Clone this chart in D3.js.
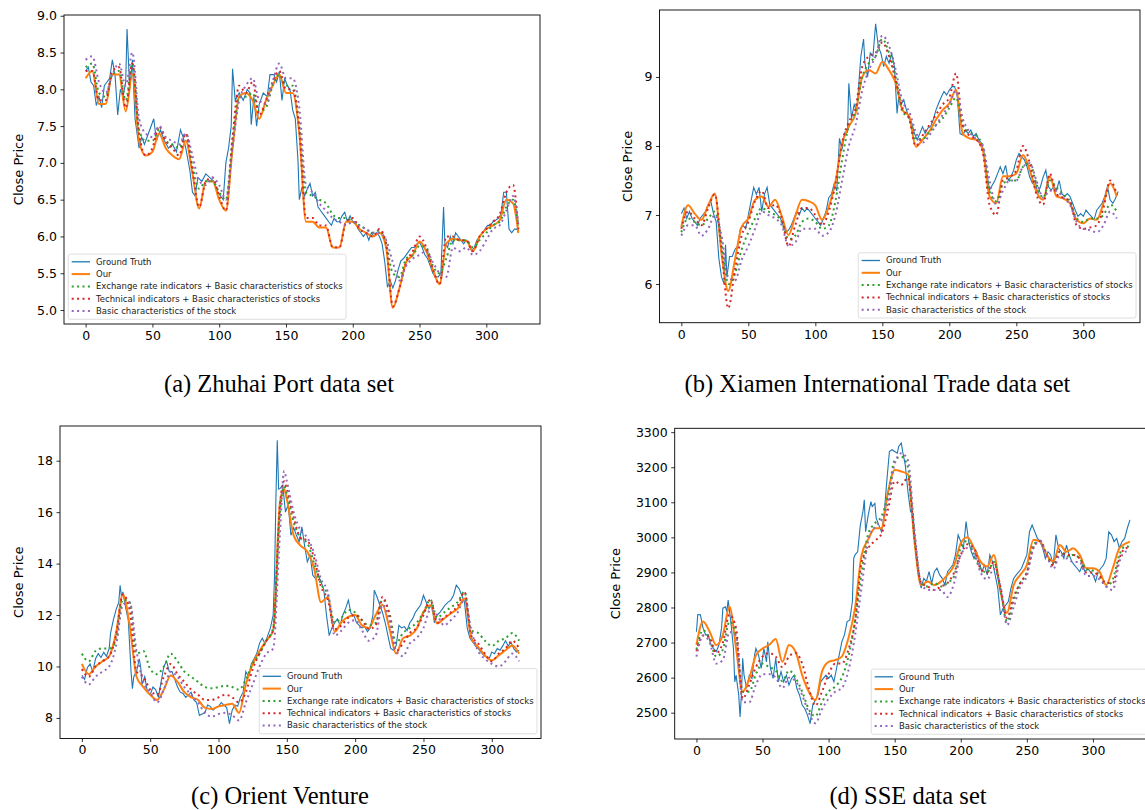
<!DOCTYPE html>
<meta charset="utf-8" />
<style>
    body { margin: 0; background: #fff; }
    .tick text { font: 12.5px "DejaVu Sans"; fill: #000; }
    .ylab { font: 13px "DejaVu Sans"; }
    .cap { font: 24.5px "Liberation Serif"; }
    .leg text { font: 8.5px "DejaVu Sans"; fill: #222; }
</style>
<title>Close price predictions</title>
<body></body>
<script src="https://d3js.org/d3.v7.min.js"></script>
<script>

    // legend labels, in plotting order
    var seriesNames = ["Ground Truth", "Our",
        "Exchange rate indicators + Basic characteristics of stocks",
        "Technical indicators + Basic characteristics of stocks",
        "Basic characteristics of the stock"];
    var xTicks = [0, 50, 100, 150, 200, 250, 300];

    // ---------- (a) Zhuhai Port ----------
    var aGt = [[0,8.25],[2,8.3],[4,8.1],[6,8.05],[8,7.78],[10,7.9],[12,7.75],[14,8.05],[16,8.1],[18,8.15],[20,8.4],[22,8.2],[24,7.65],[26,8.0],[28,7.9],[30,8.1],[31,8.82],[33,8.0],[35,8.4],[37,7.6],[40,7.2],[42,7.35],[44,7.25],[47,7.4],[51,7.6],[53,7.3],[56,7.45],[59,7.3],[62,7.2],[65,7.25],[68,7.15],[71,7.45],[73,7.35],[75,7.2],[78,6.9],[80,6.6],[82,6.55],[84,6.8],[87,6.75],[90,6.85],[93,6.8],[96,6.75],[99,6.6],[101,6.55],[103,6.5],[105,7.0],[107,7.2],[109,7.5],[110,8.28],[112,7.85],[115,7.95],[118,7.85],[121,8.0],[123,7.95],[124,7.52],[126,7.9],[128,7.5],[130,7.8],[133,7.95],[136,7.9],[138,8.2],[141,8.2],[143,8.1],[145,8.24],[147,7.85],[149,8.15],[151,8.05],[153,8.0],[155,7.72],[157,7.6],[159,7.03],[160,6.5],[162,6.67],[164,6.55],[166,6.65],[168,6.72],[170,6.55],[172,6.6],[174,6.4],[176,6.35],[178,6.3],[180,6.25],[182,6.2],[184,6.15],[186,6.25],[188,6.2],[190,6.2],[192,6.28],[194,6.33],[196,6.2],[198,6.28],[200,6.2],[202,6.2],[204,6.1],[206,6.05],[208,6.0],[210,6.05],[212,5.95],[214,6.05],[216,6.0],[218,6.05],[220,6.0],[222,5.9],[224,5.65],[226,5.31],[228,5.4],[230,5.3],[232,5.4],[234,5.55],[236,5.67],[238,5.7],[240,5.75],[242,5.8],[244,5.85],[246,5.85],[248,5.9],[250,5.92],[252,5.85],[254,5.75],[256,5.7],[258,5.6],[260,5.5],[262,5.45],[264,5.45],[266,5.5],[268,6.4],[269,5.9],[271,5.85],[273,6.0],[275,5.9],[277,6.05],[279,6.0],[281,5.95],[283,5.9],[285,5.95],[287,5.9],[289,5.8],[291,5.85],[293,5.95],[295,6.0],[297,6.05],[299,6.1],[301,6.15],[303,6.15],[305,6.2],[307,6.22],[309,6.25],[311,6.3],[313,6.6],[315,6.6],[317,6.1],[319,6.05],[321,6.1],[323,6.1],[324,6.05]];
    var aIdx = [0,5,10,15,20,25,30,35,40,45,50,55,60,65,70,75,80,85,90,95,100,105,110,115,120,125,130,135,140,145,150,155,160,165,170,175,180,185,190,195,200,205,210,215,220,225,230,235,240,245,250,255,260,265,270,275,280,285,290,295,300,305,310,315,320,324];
    var aOur = [8.15,8.25,7.8,7.8,8.2,8.2,7.7,8.2,7.3,7.1, 7.15,7.4,7.2,7.1,7.05,7.3,6.85,6.38,6.75,6.75, 6.5,6.35,7.2,7.9,7.95,7.85,7.6,7.85,8.05,8.2, 7.95,7.95,7.4,6.2,6.2,6.12,6.12,5.85,5.85,6.2, 6.2,6.1,6.05,6.0,6.05,5.85,5.03,5.3,5.65,5.75, 5.93,5.8,5.55,5.35,5.9,5.97,5.95,5.94,5.8,6.0, 6.1,6.15,6.22,6.5,6.45,6.05];
    var aExch = [8.3,8.35,7.95,7.9,8.2,8.25,7.85,8.35,7.45,7.3, 7.3,7.45,7.3,7.25,7.2,7.4,6.95,6.65,6.75,6.75, 6.6,6.5,7.3,7.9,7.9,7.95,7.7,7.75,8.05,8.2, 8.05,8.05,7.5,6.6,6.55,6.5,6.45,6.3,6.25,6.25, 6.2,6.15,6.1,6.05,6.08,5.9,5.5,5.45,5.7,5.75, 5.87,5.85,5.6,5.5,5.7,5.95,5.95,5.95,5.85,5.95, 6.05,6.15,6.2,6.4,6.5,6.15];
    var aTech = [8.25,8.25,7.85,7.85,8.25,8.3,7.75,8.35,7.4,7.1, 7.2,7.5,7.3,7.2,7.1,7.4,6.9,6.4,6.75,6.8, 6.55,6.35,7.35,8.05,7.95,8.1,7.65,7.85,8.1,8.25, 8.0,8.0,7.45,6.25,6.25,6.15,6.15,5.85,5.85,6.2, 6.25,6.1,6.05,6.0,6.1,5.9,5.05,5.3,5.65,5.8, 6.0,5.85,5.55,5.35,6.0,6.0,5.95,5.95,5.8,6.0, 6.1,6.2,6.3,6.6,6.7,6.1];
    var aBasic = [8.4,8.45,8.1,7.95,8.2,8.35,8.05,8.5,7.6,7.4, 7.35,7.5,7.35,7.3,7.25,7.4,7.1,6.75,6.7,6.8, 6.7,6.5,7.2,7.85,8.05,8.15,7.85,7.8,8.1,8.35, 8.15,8.15,7.75,6.7,6.6,6.45,6.35,6.25,6.2,6.15, 6.2,6.15,6.1,6.05,6.05,5.95,5.65,5.4,5.6,5.7, 5.75,5.8,5.65,5.5,5.45,5.85,5.8,5.85,5.75,5.8, 5.95,6.1,6.15,6.35,6.55,6.15];
    var aYTicks = [5.0, 5.5, 6.0, 6.5, 7.0, 7.5, 8.0, 8.5, 9.0];

    // ---------- (b) Xiamen International Trade ----------
    var bGt = [[0,7.02],[2,7.1],[4,6.95],[6,7.05],[8,6.95],[10,6.9],[12,6.85],[14,6.95],[16,7.0],[18,7.05],[20,7.15],[22,7.2],[24,7.02],[26,6.9],[28,6.37],[30,6.1],[32,6.0],[33,6.57],[34,6.1],[36,6.4],[38,6.4],[40,6.5],[42,6.55],[44,6.8],[46,6.85],[48,6.8],[50,7.0],[52,7.2],[54,7.4],[56,7.3],[58,7.4],[60,7.05],[62,7.3],[64,7.4],[66,7.15],[68,7.1],[70,7.05],[72,7.0],[74,6.95],[76,6.85],[78,6.75],[80,6.78],[82,6.85],[84,6.95],[86,7.05],[88,7.0],[90,7.1],[92,7.05],[94,7.1],[96,7.05],[98,7.0],[100,6.95],[102,6.9],[104,6.85],[106,6.95],[108,7.05],[110,7.25],[112,7.3],[114,7.45],[116,7.35],[118,8.11],[120,7.95],[122,8.2],[124,8.2],[125,8.91],[127,8.4],[129,8.6],[131,8.5],[133,9.05],[134,9.3],[136,9.55],[137,9.2],[139,9.0],[141,9.35],[143,9.3],[145,9.77],[147,9.44],[149,9.34],[151,9.15],[153,9.3],[155,9.2],[157,9.34],[159,9.15],[161,8.47],[162,8.67],[164,8.6],[166,8.67],[168,8.52],[170,8.4],[172,8.33],[174,8.18],[176,8.09],[178,8.18],[180,8.28],[182,8.18],[184,8.26],[186,8.28],[188,8.38],[190,8.52],[192,8.62],[194,8.71],[196,8.79],[198,8.74],[200,8.81],[202,8.86],[204,8.86],[206,8.71],[208,8.18],[210,8.16],[212,8.23],[214,8.18],[216,8.23],[218,8.14],[220,8.18],[222,8.09],[224,8.04],[226,7.89],[228,7.6],[230,7.36],[232,7.43],[234,7.5],[236,7.6],[238,7.7],[240,7.6],[242,7.72],[244,7.5],[246,7.55],[248,7.65],[250,7.8],[252,7.89],[254,7.85],[256,7.8],[258,7.7],[260,7.55],[262,7.46],[264,7.5],[266,7.31],[268,7.41],[270,7.55],[272,7.65],[274,7.41],[276,7.36],[278,7.41],[280,7.36],[282,7.5],[284,7.31],[286,7.27],[288,7.31],[290,7.27],[292,7.17],[294,7.07],[296,6.98],[298,7.02],[300,6.98],[302,7.07],[304,7.02],[306,6.98],[308,6.93],[310,7.07],[312,7.12],[314,7.17],[316,7.27],[318,7.41],[320,7.22],[322,7.17],[324,7.24],[326,7.34]];
    var bIdx = [0,5,10,15,20,25,30,35,40,45,50,55,60,65,70,75,80,85,90,95,100,105,110,115,120,125,130,135,140,145,150,155,160,165,170,175,180,185,190,195,200,205,210,215,220,225,230,235,240,245,250,255,260,265,270,275,280,285,290,295,300,305,310,315,320,325];
    var bOur = [6.83,7.14,7.02,6.93,7.14,7.31,6.44,5.9,6.35,6.83, 6.95,7.22,7.27,7.12,7.22,6.98,6.71,6.98,7.22,7.2, 7.14,6.93,7.12,7.48,8.04,8.28,8.47,9.0,9.1,9.05, 9.22,9.1,8.91,8.52,8.43,7.99,8.09,8.21,8.38,8.52, 8.62,8.81,8.18,8.11,8.09,7.94,7.27,7.17,7.56,7.56, 7.6,7.87,7.65,7.34,7.22,7.56,7.27,7.24,7.17,6.93, 6.88,6.95,6.93,7.17,7.46,7.27];
    var bExch = [6.75,6.95,6.9,6.85,6.95,7.05,6.6,6.0,6.15,6.5, 6.75,6.95,7.1,7.05,7.0,6.9,6.65,6.7,6.9,6.95, 6.9,6.8,6.85,7.2,7.8,8.3,8.5,9.0,9.2,9.3, 9.55,9.35,9.0,8.5,8.4,8.1,8.1,8.2,8.3,8.4, 8.55,8.7,8.3,8.2,8.15,8.0,7.35,7.2,7.45,7.5, 7.5,7.7,7.75,7.45,7.25,7.5,7.4,7.3,7.2,6.95, 6.9,6.95,6.95,7.0,7.15,7.05];
    var bTech = [6.8,7.05,6.95,6.85,7.1,7.3,6.5,5.65,6.2,6.7, 6.9,7.2,7.35,7.1,7.15,6.95,6.55,6.85,7.1,7.1, 7.0,6.85,7.05,7.45,8.05,8.35,8.55,9.15,9.3,9.35, 9.5,9.3,8.95,8.55,8.4,8.0,8.15,8.3,8.45,8.6, 8.7,9.05,8.3,8.15,8.1,7.9,7.15,7.0,7.5,7.55, 7.65,8.0,7.75,7.3,7.15,7.6,7.3,7.25,7.2,6.85, 6.8,6.82,6.85,7.1,7.5,7.3];
    var bBasic = [6.7,6.85,6.85,6.7,6.8,7.0,6.7,6.1,6.05,6.35, 6.55,6.8,7.05,7.0,6.95,6.85,6.55,6.6,6.8,6.8, 6.8,6.7,6.75,7.0,7.5,8.0,8.3,8.8,9.1,9.3, 9.6,9.45,9.1,8.65,8.5,8.2,8.05,8.15,8.3,8.45, 8.6,8.8,8.4,8.2,8.1,8.0,7.5,7.15,7.35,7.5, 7.5,7.7,7.75,7.5,7.25,7.35,7.35,7.25,7.15,6.9, 6.8,6.78,6.75,6.85,7.05,6.95];
    var bYTicks = [6, 7, 8, 9];

    // ---------- (c) Orient Venture ----------
    var cGt = [[0,9.66],[2,9.5],[4,9.95],[6,10.1],[8,9.8],[10,10.3],[12,10.5],[14,10.35],[16,10.55],[18,10.4],[20,10.7],[21,11.3],[23,11.8],[25,12.2],[27,12.5],[28,13.16],[29,12.7],[30,12.9],[32,12.3],[34,11.8],[35,10.8],[36,9.8],[37,9.14],[38,9.6],[40,9.8],[42,10.3],[43,10.0],[44,9.3],[46,9.6],[48,9.0],[50,8.9],[52,9.2],[54,9.1],[56,8.8],[58,9.4],[60,10.0],[62,10.2],[64,9.8],[66,9.8],[68,9.5],[70,9.2],[72,9.0],[74,8.95],[76,8.8],[78,8.9],[80,9.0],[82,8.7],[84,8.6],[86,8.1],[88,8.15],[90,8.2],[92,8.5],[94,8.45],[96,8.3],[98,8.4],[100,8.45],[102,8.6],[104,8.5],[106,8.4],[108,7.78],[110,8.3],[112,8.5],[114,8.45],[116,8.8],[118,9.0],[120,9.8],[122,9.6],[124,10.1],[126,10.3],[128,10.5],[130,10.9],[132,11.1],[134,10.9],[136,11.2],[138,11.5],[140,12.0],[141,13.5],[142,16.5],[143,18.8],[144,16.9],[145,16.92],[147,17.05],[149,16.0],[151,16.3],[153,15.1],[155,15.4],[157,15.1],[159,14.85],[161,15.43],[163,14.7],[165,14.07],[167,14.33],[169,13.55],[171,13.42],[173,13.55],[175,13.3],[177,13.0],[179,12.0],[181,11.2],[183,11.5],[185,11.7],[187,11.85],[189,11.6],[191,12.0],[193,12.25],[195,12.58],[197,12.06],[199,12.0],[201,11.7],[203,11.6],[205,11.5],[207,11.55],[209,11.35],[211,11.5],[213,12.0],[214,12.97],[216,12.7],[218,12.4],[220,12.1],[222,11.7],[224,11.2],[226,10.7],[228,10.63],[230,10.8],[232,11.6],[234,11.5],[236,11.55],[238,11.4],[240,11.7],[242,11.85],[244,12.1],[246,12.25],[248,12.4],[250,12.77],[252,12.5],[254,12.25],[256,12.4],[258,11.7],[260,12.0],[262,12.1],[264,12.25],[266,12.4],[268,12.5],[270,12.58],[272,12.77],[274,13.16],[276,13.03],[278,12.77],[280,12.5],[282,11.5],[284,11.1],[286,10.95],[288,10.8],[290,10.7],[292,10.56],[294,10.44],[296,10.37],[298,10.3],[300,10.56],[302,10.5],[304,10.7],[306,10.63],[308,10.8],[310,11.0],[312,10.8],[314,10.95],[316,10.7],[318,10.56],[320,10.63]];
    var cIdx = [0,5,10,15,20,25,30,35,40,45,50,55,60,65,70,75,80,85,90,95,100,105,110,115,120,125,130,135,140,145,148,150,155,160,165,170,175,180,185,190,195,200,205,210,215,220,225,230,235,240,245,250,255,260,265,270,275,280,285,290,295,300,305,310,315,320];
    var cOur = [10.1,9.7,10.0,10.2,10.4,11.3,12.8,11.6,9.6,9.2, 8.9,8.7,9.1,9.65,9.4,9.0,8.8,8.7,8.4,8.35, 8.45,8.5,8.55,8.2,9.3,10.1,10.6,11.0,11.4,16.4, 16.9, 16.5,15.1,14.7,14.46,13.8,12.5,12.7,11.35,11.73,11.93, 12.0,11.6,11.5,12.0,12.4,11.5,10.5,11.1,11.2,11.47, 12.12,12.38,11.67,11.86,12.06,12.25,12.64,11.1,10.76,10.43, 10.24,10.43,10.63,10.82,10.5];
    var cExch = [10.5,10.2,10.6,10.7,10.7,11.0,12.6,12.5,10.5,10.6, 9.9,9.7,10.0,10.5,10.2,9.8,9.6,9.4,9.2,9.15, 9.2,9.25,9.2,9.1,9.5,10.1,10.5,11.0,11.5,16.0, 17.0, 16.7,15.6,15.0,14.8,14.0,13.2,12.8,11.7,11.9,12.2, 12.1,11.8,11.6,11.7,12.6,12.1,10.9,11.3,11.5,11.7, 12.1,12.6,11.9,12.1,12.3,12.5,12.9,11.4,11.3,11.0, 10.8,11.0,11.1,11.3,11.0];
    var cTech = [9.9,9.6,10.0,10.2,10.4,11.2,12.8,12.2,9.8,9.6, 9.1,8.9,9.6,10.1,9.7,9.4,9.1,8.9,8.7,8.7, 8.8,8.9,8.8,8.6,9.0,9.9,10.5,11.0,11.4,16.3, 17.2, 16.9,15.8,15.0,14.9,14.2,13.1,12.6,11.45,11.6,11.9, 12.0,11.8,11.45,11.6,12.7,12.0,10.6,10.9,11.3,11.5, 12.0,12.6,11.7,11.9,12.1,12.35,12.9,11.2,10.9,10.5, 10.2,10.5,10.7,11.0,10.7];
    var cBasic = [9.6,9.3,9.6,9.8,10.0,10.8,12.4,12.5,10.6,9.4, 9.0,8.6,9.1,9.8,9.6,9.2,8.9,8.6,8.2,8.05, 8.15,8.2,8.1,7.9,8.6,9.3,10.0,10.5,10.7,15.2, 17.6, 17.2,16.0,15.3,15.0,14.4,13.4,12.9,11.2,11.4,11.7, 11.8,11.4,11.0,11.2,12.4,11.8,10.6,10.4,10.9,11.1, 11.5,12.2,12.0,11.6,11.8,12.1,12.6,11.4,10.6,10.3, 10.1,10.0,10.2,10.5,10.2];
    var cYTicks = [8, 10, 12, 14, 16, 18];

    // ---------- (d) SSE ----------
    var dGt = [[0,2731],[1,2780],[3,2779],[5,2741],[7,2722],[9,2722],[11,2693],[13,2683],[15,2674],[17,2693],[19,2741],[20,2798],[22,2802],[23,2788],[24,2821],[26,2760],[28,2683],[29,2588],[30,2607],[32,2550],[33,2488],[34,2550],[35,2655],[36,2607],[38,2569],[40,2607],[42,2598],[44,2664],[45,2683],[47,2664],[49,2626],[51,2683],[53,2645],[54,2702],[56,2626],[58,2598],[60,2655],[62,2588],[64,2617],[66,2588],[68,2607],[70,2579],[72,2598],[74,2607],[76,2569],[78,2550],[80,2522],[82,2512],[84,2493],[86,2469],[88,2522],[90,2536],[92,2550],[94,2588],[96,2598],[98,2607],[100,2598],[102,2607],[104,2588],[106,2626],[108,2664],[110,2702],[112,2722],[114,2760],[116,2764],[118,2817],[119,2940],[120,2950],[122,2959],[124,3035],[126,3074],[127,3107],[128,3016],[130,3064],[132,3102],[133,3088],[135,3097],[136,3055],[138,3035],[140,3016],[142,3064],[144,3159],[146,3245],[148,3250],[150,3245],[152,3240],[153,3259],[155,3269],[156,3245],[158,3207],[160,3131],[162,3074],[164,3064],[166,2950],[168,2893],[170,2855],[172,2883],[174,2874],[176,2902],[178,2869],[180,2902],[182,2912],[184,2893],[186,2883],[188,2864],[190,2902],[192,2912],[194,2921],[196,2950],[198,3007],[200,2988],[202,2969],[204,3045],[206,2988],[208,2959],[210,2940],[212,2959],[214,2931],[216,2902],[218,2921],[220,2893],[222,2950],[224,2931],[226,2893],[228,2855],[230,2779],[232,2798],[234,2807],[236,2817],[238,2855],[240,2883],[242,2893],[244,2902],[246,2912],[248,2931],[250,2950],[252,3016],[254,3035],[256,3016],[258,2997],[260,2988],[262,2969],[264,2940],[266,2959],[268,2950],[270,2921],[272,3007],[274,2969],[276,2959],[278,2940],[280,2978],[282,2950],[284,2931],[286,2921],[288,2912],[290,2902],[292,2921],[294,2902],[296,2912],[298,2902],[300,2893],[302,2874],[304,2902],[306,2912],[308,2921],[310,2940],[312,3016],[314,3007],[316,2988],[318,2997],[320,2969],[322,2988],[324,2997],[326,3026],[328,3050]];
    var dIdx = [0,5,10,15,20,25,30,35,40,45,50,55,60,65,70,75,80,85,90,95,100,105,110,115,120,125,130,135,140,145,150,155,160,165,170,175,180,185,190,195,200,205,210,215,220,225,230,235,240,245,250,255,260,265,270,275,280,285,290,295,300,305,310,315,320,325,328];
    var dOur = [2693,2760,2731,2693,2722,2802,2683,2560,2598,2664, 2683,2693,2710,2645,2693,2674,2607,2560,2535,2617, 2645,2650,2660,2712,2798,2950,2995,3026,3026,3131, 3192,3188,3180,2988,2864,2874,2864,2874,2893,2921, 2983,3000,2969,2931,2917,2950,2845,2785,2864,2893, 2921,2993,2988,2950,2931,2978,2959,2969,2950,2912, 2912,2902,2864,2912,2969,2983,2988];
    var dExch = [2680,2735,2710,2660,2680,2760,2720,2560,2560,2610, 2640,2630,2620,2590,2620,2600,2560,2510,2490,2530, 2560,2575,2600,2660,2760,2900,3010,3040,3060,3120, 3220,3230,3200,3000,2870,2860,2870,2860,2870,2890, 2970,2990,2950,2910,2900,2930,2850,2760,2820,2870, 2900,2980,2990,2950,2920,2960,2945,2950,2940,2910, 2905,2890,2860,2880,2950,2975,2970];
    var dTech = [2675,2720,2715,2670,2700,2780,2740,2540,2580,2630, 2660,2670,2660,2630,2660,2670,2640,2570,2520,2560, 2610,2640,2640,2680,2760,2930,2970,2990,3010,3080, 3160,3150,3170,3000,2870,2860,2850,2860,2870,2900, 2950,2980,2970,2910,2900,2930,2860,2770,2830,2870, 2900,2970,2990,2950,2920,2960,2950,2950,2940,2900, 2900,2890,2870,2870,2940,2970,2965];
    var dBasic = [2660,2720,2700,2640,2650,2730,2720,2530,2530,2580, 2610,2610,2600,2570,2600,2590,2550,2500,2470,2510, 2540,2560,2570,2620,2720,2860,2990,3030,3050,3100, 3210,3240,3220,3020,2870,2850,2850,2850,2830,2870, 2950,2970,2960,2900,2880,2910,2860,2750,2800,2860, 2890,2970,2990,2950,2910,2950,2940,2930,2930,2890, 2890,2880,2860,2850,2930,2960,2960];
    var dYTicks = [2500, 2600, 2700, 2800, 2900, 3000, 3100, 3200, 3300];

    // matplotlib tab10
    var colors = ["#1f77b4", "#ff7f0e", "#2ca02c", "#d62728", "#9467bd"];

    var panels = [
        {id: "a", caption: "(a) Zhuhai Port data set", box: [64, 15, 540, 324], xDom: [-16.2, 340.2], yDom: [4.81, 9.01],
            yTicks: aYTicks, fmt: d3.format(".1f"), gt: aGt, idx: aIdx, preds: [aOur, aExch, aTech, aBasic],
            labX: 18, capX: 279, capY: 391.5, legend: "left"},
        {id: "b", caption: "(b) Xiamen International Trade data set", box: [659.5, 10, 1140, 322.7], xDom: [-16.3, 342.3], yDom: [5.44, 9.97],
            yTicks: bYTicks, fmt: d3.format("d"), gt: bGt, idx: bIdx, preds: [bOur, bExch, bTech, bBasic],
            labX: 627, capX: 877.5, capY: 391.5, legend: "right"},
        {id: "c", caption: "(c) Orient Venture", box: [60, 426, 541, 738.5], xDom: [-16, 336], yDom: [7.2, 19.35],
            yTicks: cYTicks, fmt: d3.format("d"), gt: cGt, idx: cIdx, preds: [cOur, cExch, cTech, cBasic],
            labX: 18, capX: 280, capY: 804, legend: "right"},
        {id: "d", caption: "(d) SSE data set", box: [674.7, 428.3, 1153, 739], xDom: [-16.45, 345.45], yDom: [2425, 3311],
            yTicks: dYTicks, fmt: d3.format("d"), gt: dGt, idx: dIdx, preds: [dOur, dExch, dTech, dBasic],
            labX: 615, capX: 908, capY: 804, legend: "right"}
    ];

    var svg = d3.select("body")
        .append("svg")
        .attr("width", 1145)
        .attr("height", 810)
        .style("background", "#fff");

    var defs = svg.append("defs");

    panels.forEach(drawPanel);

    function drawPanel(p) {
        var x0 = p.box[0], y0 = p.box[1], x1 = p.box[2], y1 = p.box[3];
        var x = d3.scaleLinear().domain(p.xDom).range([x0, x1]);
        var y = d3.scaleLinear().domain(p.yDom).range([y1, y0]);

        defs.append("clipPath").attr("id", "clip-" + p.id)
            .append("rect")
            .attr("x", x0).attr("y", y0)
            .attr("width", x1 - x0).attr("height", y1 - y0);

        var plot = svg.append("g").attr("clip-path", "url(#clip-" + p.id + ")");

        // ground truth: thin solid line
        var gtLine = d3.line()
            .x(function (d) { return x(d[0]); })
            .y(function (d) { return y(d[1]); });
        plot.append("path")
            .attr("d", gtLine(p.gt))
            .attr("fill", "none")
            .attr("stroke", colors[0])
            .attr("stroke-width", 1.1);

        // predictions
        p.preds.forEach(function (vals, k) {
            var line = d3.line()
                .curve(d3.curveMonotoneX)
                .x(function (d, i) { return x(p.idx[i]); })
                .y(function (d) { return y(d); });
            var path = plot.append("path")
                .attr("d", line(vals))
                .attr("fill", "none")
                .attr("stroke", colors[k + 1])
                .attr("stroke-width", 2);
            if (k > 0) path.attr("stroke-dasharray", "2,3.4");
        });

        // axes
        var gx = svg.append("g")
            .attr("transform", "translate(0," + y1 + ")")
            .call(d3.axisBottom(x).tickValues(xTicks).tickSize(3.5).tickPadding(3.5).tickSizeOuter(0));
        var gy = svg.append("g")
            .attr("transform", "translate(" + x0 + ",0)")
            .call(d3.axisLeft(y).tickValues(p.yTicks).tickFormat(p.fmt).tickSize(3.5).tickPadding(3.5).tickSizeOuter(0));
        [gx, gy].forEach(function (g) {
            g.select(".domain").remove();
            g.selectAll(".tick line").attr("stroke", "#000").attr("stroke-width", 0.8);
        });

        svg.append("rect")
            .attr("x", x0).attr("y", y0)
            .attr("width", x1 - x0).attr("height", y1 - y0)
            .attr("fill", "none")
            .attr("stroke", "#000")
            .attr("stroke-width", 0.9);

        svg.append("text")
            .attr("class", "ylab")
            .attr("transform", "translate(" + p.labX + "," + ((y0 + y1) / 2) + ") rotate(-90)")
            .attr("text-anchor", "middle")
            .attr("dy", "0.35em")
            .text("Close Price");

        svg.append("text")
            .attr("class", "cap")
            .attr("x", p.capX)
            .attr("y", p.capY)
            .attr("text-anchor", "middle")
            .text(p.caption);

        drawLegend(p);
    }

    function drawLegend(p) {
        var x0 = p.box[0], x1 = p.box[2], y1 = p.box[3];
        var rowH = 12.3;
        var g = svg.append("g").attr("class", "leg");
        var frame = g.append("rect");
        var texts = [];
        seriesNames.forEach(function (name, k) {
            var t = g.append("text")
                .attr("x", 27.7)
                .attr("y", 7.7 + k * rowH)
                .attr("dy", "0.35em")
                .text(name);
            texts.push(t);
            var h = g.append("line")
                .attr("x1", 3.4).attr("x2", 21.7)
                .attr("y1", 7.7 + k * rowH).attr("y2", 7.7 + k * rowH)
                .attr("stroke", colors[k]);
            if (k === 0) h.attr("stroke-width", 1.3);
            else if (k === 1) h.attr("stroke-width", 2);
            else h.attr("stroke-width", 2).attr("stroke-dasharray", "2,3.4");
        });
        var maxW = d3.max(texts, function (t) { return t.node().getComputedTextLength(); });
        var w = 27.7 + maxW + 3.4;
        var h = 7.7 + 4 * rowH + 8.3;
        frame.attr("width", w).attr("height", h)
            .attr("rx", 2)
            .attr("fill", "#fff").attr("fill-opacity", 0.8)
            .attr("stroke", "#d5d5d5").attr("stroke-width", 0.8);
        var left = p.legend === "left" ? x0 + 4.3 : x1 - 4 - w;
        g.attr("transform", "translate(" + left + "," + (y1 - 4.7 - h) + ")");
    }

</script>
